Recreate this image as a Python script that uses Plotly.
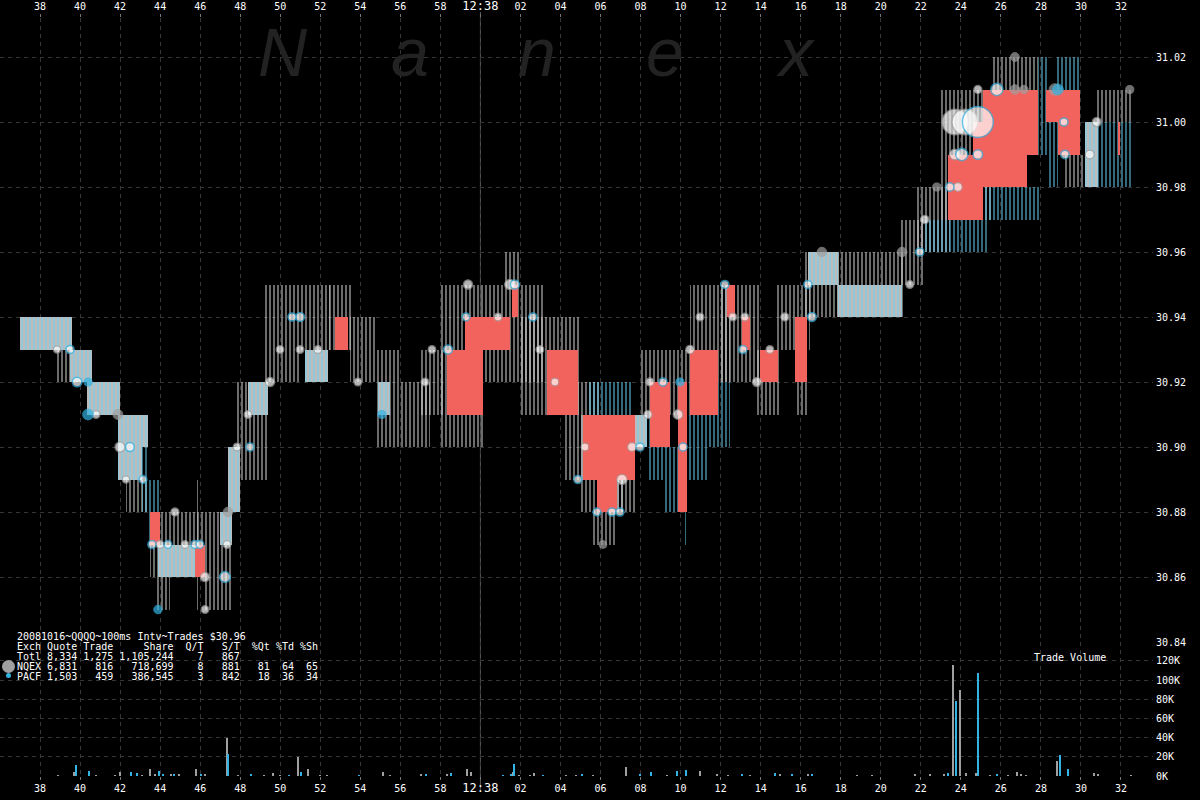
import math
import plotly.graph_objects as go

# ---------------- data ----------------
# x values are seconds after 12:37:00
tick_secs = list(range(38, 94, 2))
tick_text = [str(s) if s < 60 else ('<span style="font-size:12px">12:38</span>' if s == 60 else f"{s-60:02d}") for s in tick_secs]

price_ticks = [30.84, 30.86, 30.88, 30.90, 30.92, 30.94, 30.96, 30.98, 31.00, 31.02]
vol_ticks = [0, 20000, 40000, 60000, 80000, 100000, 120000]
vol_tick_labels = ["0K", "20K", "40K", "60K", "80K", "100K", "120K"]

# quote segments: start, end, low, high, exchange (N=NQEX, P=PACF, B=both)
q_start = [37.00, 38.85, 39.50, 40.35, 41.89, 41.89, 43.09, 42.29, 43.39, 43.49, 43.89, 43.74, 45.80, 46.24, 46.99,
           47.39, 47.84, 48.39, 49.24, 50.99, 51.23, 52.33, 53.48, 54.73, 54.88, 55.98, 56.98, 57.98, 60.23, 61.22,
           61.97, 64.22, 65.32, 64.97, 65.57, 66.72, 67.22, 67.97, 68.32, 69.12, 70.17, 70.32, 71.36, 70.47, 71.96,
           73.71, 74.71, 75.71, 76.21, 76.36, 77.71, 77.86, 80.96, 81.70, 82.10, 82.95, 85.20, 85.60, 87.85, 88.30,
           88.80, 89.20, 90.20, 90.85, 90.79]
q_end = [39.60, 39.50, 40.60, 41.99, 43.39, 43.09, 43.39, 43.39, 43.99, 46.24, 46.24, 44.49, 45.90, 47.59, 47.59,
         47.99, 49.39, 49.39, 50.99, 52.48, 52.38, 53.58, 54.73, 55.98, 55.48, 57.48, 58.23, 60.23, 63.22, 61.97,
         64.97, 65.97, 67.57, 67.72, 66.72, 67.22, 68.32, 70.47, 69.12, 70.12, 70.27, 71.36, 72.46, 72.46, 73.96,
         74.96, 76.46, 76.31, 77.96, 77.86, 81.20, 81.06, 82.20, 83.45, 85.35, 85.60, 87.95, 87.85, 88.30, 88.85,
         89.95, 90.20, 90.85, 92.54, 92.54]
q_low = [30.93, 30.92, 30.92, 30.91, 30.90, 30.89, 30.88, 30.88, 30.87, 30.86, 30.86, 30.85, 30.85, 30.85, 30.87,
         30.88, 30.89, 30.91, 30.92, 30.93, 30.92, 30.93, 30.92, 30.90, 30.91, 30.90, 30.91, 30.90, 30.92, 30.95,
         30.91, 30.89, 30.91, 30.88, 30.87, 30.88, 30.90, 30.91, 30.89, 30.88, 30.87, 30.89, 30.90, 30.92, 30.92,
         30.91, 30.93, 30.91, 30.94, 30.95, 30.94, 30.94, 30.95, 30.96, 30.96, 30.97, 30.97, 31.01, 30.99, 30.98,
         31.01, 30.98, 30.98, 30.98, 31.00]
q_high = [30.94, 30.93, 30.93, 30.92, 30.91, 30.90, 30.90, 30.89, 30.89, 30.88, 30.87, 30.86, 30.89, 30.88, 30.88,
          30.90, 30.92, 30.92, 30.95, 30.95, 30.93, 30.95, 30.94, 30.93, 30.92, 30.92, 30.93, 30.95, 30.95, 30.96,
          30.94, 30.92, 30.92, 30.91, 30.88, 30.91, 30.91, 30.93, 30.91, 30.90, 30.88, 30.91, 30.92, 30.95, 30.95,
          30.93, 30.95, 30.93, 30.96, 30.96, 30.96, 30.95, 30.97, 30.98, 30.97, 31.01, 30.98, 31.02, 31.02, 31.00,
          31.02, 30.99, 31.00, 31.00, 31.01]
q_exch = ["B", "N", "B", "B", "B", "B", "P", "N", "P", "N", "B", "N", "N", "N", "B",
          "B", "N", "B", "N", "N", "B", "N", "N", "N", "B", "N", "N", "N", "N", "N",
          "N", "N", "P", "N", "N", "N", "B", "N", "P", "P", "P", "P", "P", "N", "N",
          "N", "N", "N", "N", "B", "N", "B", "N", "N", "P", "N", "P", "N", "P", "P",
          "P", "N", "B", "P", "N"]

# crossed / locked intervals (red)
red_start = [43.49, 45.74, 52.73, 58.33, 59.23, 61.57, 63.32, 65.12, 65.82, 68.47, 69.87, 70.47, 72.31, 73.06,
             73.96, 75.71, 83.35, 84.60, 85.10, 87.30, 88.25, 88.85, 91.84]
red_end = [43.99, 46.24, 53.38, 60.13, 61.47, 61.87, 64.87, 67.72, 66.82, 69.47, 70.32, 71.86, 72.71, 73.46,
           74.86, 76.31, 85.10, 85.60, 87.30, 87.85, 88.85, 89.95, 91.94]
red_low = [30.87, 30.86, 30.93, 30.91, 30.93, 30.94, 30.91, 30.89, 30.88, 30.90, 30.88, 30.91, 30.94, 30.93,
           30.92, 30.92, 30.97, 30.98, 30.98, 30.99, 31.00, 30.99, 30.99]
red_high = [30.88, 30.87, 30.94, 30.93, 30.94, 30.95, 30.93, 30.91, 30.89, 30.92, 30.92, 30.93, 30.95, 30.94,
            30.93, 30.94, 30.99, 31.00, 31.01, 31.01, 31.01, 31.01, 31.00]

# trades: time, price, shares, exchange (N/P outlined, n/p solid)
trade_time = [38.85, 39.50, 39.85, 40.40, 40.40, 40.80, 41.89, 41.99, 42.49, 42.29, 43.14, 43.59, 43.99, 44.74,
              44.39, 45.24, 45.74, 45.99, 46.24, 43.89, 46.24, 47.24, 47.39, 47.34, 47.84, 48.49, 48.39, 49.49,
              49.99, 50.59, 50.99, 50.99, 51.88, 53.88, 55.08, 57.23, 57.58, 58.38, 59.38, 59.28, 61.47, 61.72,
              60.88, 62.62, 62.97, 63.72, 64.87, 65.22, 65.82, 66.57, 66.97, 66.12, 67.07, 67.57, 67.97, 68.37,
              68.47, 69.12, 69.97, 69.87, 70.12, 70.47, 70.97, 72.21, 72.61, 73.11, 73.21, 73.81, 74.46, 75.21,
              76.36, 76.56, 77.06, 81.06, 81.45, 81.95, 82.20, 82.80, 83.45, 83.85, 83.70, 84.05, 84.85, 83.70,
              84.20, 84.85, 84.85, 85.80, 86.70, 87.15, 86.70, 88.70, 88.85, 89.15, 89.20, 90.44, 90.79, 92.44]
trade_price = [30.93, 30.93, 30.92, 30.92, 30.91, 30.91, 30.91, 30.90, 30.90, 30.89, 30.89, 30.87, 30.87, 30.88,
               30.87, 30.87, 30.87, 30.87, 30.86, 30.85, 30.85, 30.86, 30.88, 30.87, 30.90, 30.90, 30.91, 30.92,
               30.93, 30.94, 30.94, 30.93, 30.93, 30.92, 30.91, 30.92, 30.93, 30.93, 30.95, 30.94, 30.95, 30.95,
               30.94, 30.94, 30.93, 30.92, 30.89, 30.90, 30.88, 30.88, 30.88, 30.87, 30.89, 30.90, 30.90, 30.91,
               30.92, 30.92, 30.92, 30.91, 30.90, 30.93, 30.94, 30.95, 30.94, 30.93, 30.94, 30.92, 30.93, 30.94,
               30.95, 30.94, 30.96, 30.96, 30.95, 30.96, 30.97, 30.98, 30.98, 30.98, 30.99, 30.99, 30.99, 31.00,
               31.00, 31.00, 31.01, 31.01, 31.01, 31.01, 31.02, 31.01, 31.01, 31.00, 30.99, 30.99, 31.00, 31.01]
trade_shares = [100, 300, 800, 300, 1500, 200, 1000, 1000, 500, 100, 200, 300, 200, 300,
                200, 200, 300, 200, 700, 400, 200, 1500, 800, 200, 200, 300, 200, 700,
                200, 300, 500, 200, 200, 200, 300, 200, 200, 600, 700, 200, 1200, 600,
                200, 300, 200, 200, 300, 200, 200, 300, 300, 200, 1200, 500, 300, 300,
                300, 300, 300, 900, 300, 400, 200, 300, 200, 300, 200, 600, 200, 300,
                300, 500, 800, 800, 200, 300, 400, 300, 400, 500, 1500, 2500, 800, 25000,
                25000, 40000, 300, 2500, 800, 400, 500, 2000, 1500, 300, 400, 500, 600, 300]
trade_exch = ["N", "P", "P", "p", "p", "N", "n", "N", "P", "N", "P", "P", "N", "N",
              "P", "N", "P", "P", "N", "p", "N", "P", "n", "N", "N", "P", "N", "N",
              "N", "P", "P", "N", "N", "N", "p", "N", "N", "P", "N", "P", "N", "P",
              "N", "P", "N", "N", "P", "N", "P", "P", "P", "n", "N", "N", "P", "N",
              "N", "P", "p", "N", "P", "N", "N", "P", "N", "P", "N", "N", "N", "N",
              "P", "P", "n", "n", "N", "P", "N", "n", "P", "N", "N", "P", "P", "N",
              "N", "P", "N", "P", "n", "n", "n", "n", "p", "P", "P", "N", "N", "n"]

# trade volume per 100ms interval
vol_time = [38.92, 39.70, 39.82, 40.45, 40.82, 41.74, 41.99, 42.54, 42.84, 43.09, 43.49, 43.74, 43.94, 44.14,
            44.54, 44.69, 44.94, 45.79, 46.04, 46.24, 47.34, 47.39, 47.89, 48.54, 49.19, 49.64, 49.99, 50.44,
            50.91, 51.04, 51.41, 51.98, 52.33, 53.91, 55.13, 55.48, 57.03, 57.28, 58.33, 58.53, 59.33, 59.53,
            61.12, 61.52, 61.67, 61.62, 61.92, 62.47, 62.67, 63.12, 64.27, 64.77, 65.07, 65.62,
            67.27, 67.97, 68.52, 69.32, 69.82, 70.27, 70.97, 71.81, 72.36, 73.06, 73.46, 74.71, 74.96, 75.56,
            76.36, 76.56, 78.81, 79.56, 81.70, 82.45, 83.15, 83.35, 83.60, 83.75, 83.95, 84.25, 84.75, 84.85,
            85.45, 85.80, 86.35, 86.80, 87.00, 87.25, 88.80, 88.95, 89.35, 90.65, 90.85, 92.49]
vol_shares = [500, 4000, 11500, 5500, 800, 800, 4000, 4000, 3000, 800, 7000, 1500, 5500, 1500,
              1500, 1500, 2000, 7000, 1500, 2500, 40000, 23000, 1000, 1500, 500, 3000, 1000, 500,
              20000, 4000, 7000, 1000, 800, 500, 4000, 500, 1500, 1500, 1500, 3000, 7500, 4000,
              500, 1500, 12000, 4500, 1000, 1000, 3000, 1000, 500, 1000, 1500, 500,
              9000, 1500, 4000, 500, 5000, 6000, 5000, 2000, 1000, 1500, 1000, 3000, 2000, 2000,
              1500, 1500, 500, 500, 1500, 2000, 2000, 3000, 116000, 78000, 90000, 3000, 3000, 107000,
              1000, 2000, 1000, 4000, 1500, 500, 15600, 22000, 7000, 3000, 2000, 800]
vol_exch = ["N", "N", "P", "P", "N", "N", "N", "P", "P", "N", "N", "N", "P", "P",
            "N", "P", "N", "N", "P", "N", "N", "P", "N", "P", "N", "N", "N", "P",
            "N", "P", "N", "N", "N", "P", "N", "N", "N", "P", "N", "P", "N", "N",
            "P", "P", "P", "N", "N", "N", "N", "P", "N", "N", "P", "N",
            "N", "P", "P", "N", "P", "P", "N", "N", "N", "P", "N", "P", "N", "P",
            "N", "P", "N", "N", "N", "N", "N", "P", "N", "P", "N", "N", "N", "P",
            "N", "P", "N", "N", "N", "N", "N", "P", "P", "N", "N", "N"]

summary_lines = [
    "20081016~QQQQ~100ms Intv~Trades $30.96",
    "Exch Quote Trade     Share  Q/T   S/T  %Qt %Td %Sh",
    "Totl 8,334 1,275 1,105,244    7   867",
    "NQEX 6,831   816   718,699    8   881   81  64  65",
    "PACF 1,503   459   386,545    3   842   18  36  34",
]

# ---------------- styling ----------------
GRAY = "#d8d8d8"
CYAN = "#6cd4f4"
RED = "#f3635e"
TGRAY = "#a0a0a0"
TCYAN = "#33b3e3"
MONO = "DejaVu Sans Mono"

W, H = 1200, 800
ML, MR, MT, MB = 0, 47, 18, 24
PW, PH = W - ML - MR, H - MT - MB
split = (H - MB - 642) / PH  # price / volume boundary


def px_x(px):
    return px / PW


def px_y(py):
    return (H - MB - py) / PH


fig = go.Figure()


def quote_trace(kind, fg, bg, sol, size):
    idx = [i for i, k in enumerate(q_exch) if k == kind]
    fig.add_trace(go.Bar(
        x=[(q_start[i] + q_end[i]) / 2 for i in idx],
        y=[q_high[i] - q_low[i] for i in idx],
        base=[q_low[i] for i in idx],
        width=[q_end[i] - q_start[i] for i in idx],
        marker=dict(color=bg, line=dict(width=0),
                    pattern=dict(shape="|", fgcolor=fg, bgcolor=bg, size=size, solidity=sol)),
        xaxis="x", yaxis="y", hoverinfo="skip"))


quote_trace("N", GRAY, "rgba(0,0,0,0)", 0.5, 4)
quote_trace("P", CYAN, "rgba(0,0,0,0)", 0.5, 4)
quote_trace("B", CYAN, "#bcbcbc", 0.5, 4)

fig.add_trace(go.Bar(
    x=[(a + b) / 2 for a, b in zip(red_start, red_end)],
    y=[h - l for l, h in zip(red_low, red_high)],
    base=red_low,
    width=[b - a for a, b in zip(red_start, red_end)],
    marker=dict(color=RED, line=dict(width=0)),
    xaxis="x", yaxis="y", hoverinfo="skip"))

# trades (largest drawn first)
order = sorted(range(len(trade_time)), key=lambda i: -trade_shares[i])
styles = {
    "N": dict(color="white", line=dict(color=TGRAY, width=1.2)),
    "P": dict(color="white", line=dict(color=TCYAN, width=1.5)),
    "n": dict(color=TGRAY, line=dict(color=TGRAY, width=1)),
    "p": dict(color=TCYAN, line=dict(color=TCYAN, width=1)),
}
for kind in ["N", "P", "n", "p"]:
    idx = [i for i in order if trade_exch[i] == kind]
    fig.add_trace(go.Scatter(
        x=[trade_time[i] for i in idx], y=[trade_price[i] for i in idx], mode="markers",
        marker=dict(size=[6 + math.sqrt(trade_shares[i]) / 8 for i in idx], symbol="circle", **styles[kind]),
        xaxis="x", yaxis="y", hoverinfo="skip"))

# volume
for kind, col in [("N", TGRAY), ("P", TCYAN)]:
    idx = [i for i, k in enumerate(vol_exch) if k == kind]
    fig.add_trace(go.Bar(
        x=[vol_time[i] for i in idx], y=[vol_shares[i] for i in idx], width=0.1,
        marker=dict(color=col, line=dict(width=0)),
        xaxis="x2", yaxis="y2", hoverinfo="skip"))

axis_font = dict(family=MONO, size=10, color="white")
common_x = dict(range=[36.0, 93.6], tickmode="array", tickvals=tick_secs, ticktext=tick_text,
                showgrid=True, gridcolor="#363636", griddash="4px,4px", gridwidth=1, zeroline=False,
                ticks="outside", ticklen=3, tickcolor="#777777", tickfont=axis_font, showline=False,
                automargin=False)
common_y = dict(side="right", showgrid=True, gridcolor="#363636", griddash="4px,4px", gridwidth=1,
                zeroline=False, ticks="", tickfont=axis_font, ticklabelstandoff=2, showline=False,
                automargin=False)

annotations = []
letters = [("N", 283), ("a", 410), ("n", 537), ("e", 665), ("x", 795)]
for ch, xp in letters:
    annotations.append(dict(text=ch, x=px_x(xp), y=px_y(52), xref="paper", yref="paper",
                            showarrow=False, xanchor="center", yanchor="middle",
                            font=dict(family="Liberation Sans", size=68, color="#222222", style="italic")))
row_y = [636, 646.5, 656.5, 666.5, 676.5]
for line, yy in zip(summary_lines, row_y):
    annotations.append(dict(text=line.replace(" ", "\u00a0"), x=px_x(15), y=px_y(yy), xref="paper", yref="paper",
                            showarrow=False, xanchor="left", yanchor="middle",
                            font=dict(family=MONO, size=10, color="white")))
annotations.append(dict(text="Trade\u00a0Volume", x=px_x(1032), y=px_y(657), xref="paper", yref="paper",
                        showarrow=False, xanchor="left", yanchor="middle",
                        font=dict(family=MONO, size=10, color="white")))

shapes = [
    dict(type="line", xref="x", yref="paper", x0=60, x1=60, y0=px_y(790), y1=px_y(12),
         line=dict(color="#5a5a5a", width=1), layer="below"),
    dict(type="circle", xref="paper", yref="paper", x0=px_x(2), x1=px_x(15), y0=px_y(673), y1=px_y(660),
         fillcolor="#a0a0a0", line=dict(width=0)),
    dict(type="circle", xref="paper", yref="paper", x0=px_x(6), x1=px_x(11), y0=px_y(678), y1=px_y(673),
         fillcolor=TCYAN, line=dict(width=0)),
]

fig.update_layout(
    width=W, height=H, margin=dict(l=ML, r=MR, t=MT, b=MB, autoexpand=False),
    paper_bgcolor="black", plot_bgcolor="black",
    barmode="overlay", bargap=0, showlegend=False, hovermode=False,
    xaxis=dict(**common_x, side="top", anchor="y"),
    xaxis2=dict(**common_x, side="bottom", anchor="y2", matches="x"),
    yaxis=dict(**common_y, domain=[split, 1], range=[30.84, 31.032], tickmode="array",
               tickvals=price_ticks, tickformat=".2f"),
    yaxis2=dict(**common_y, domain=[0, split], range=[0, 139580], tickmode="array",
                tickvals=vol_ticks, ticktext=vol_tick_labels),
    annotations=annotations, shapes=shapes,
)

fig.write_html("out.html", config={"displayModeBar": False},
               post_script="document.body.style.margin='0';document.body.style.background='black';")
